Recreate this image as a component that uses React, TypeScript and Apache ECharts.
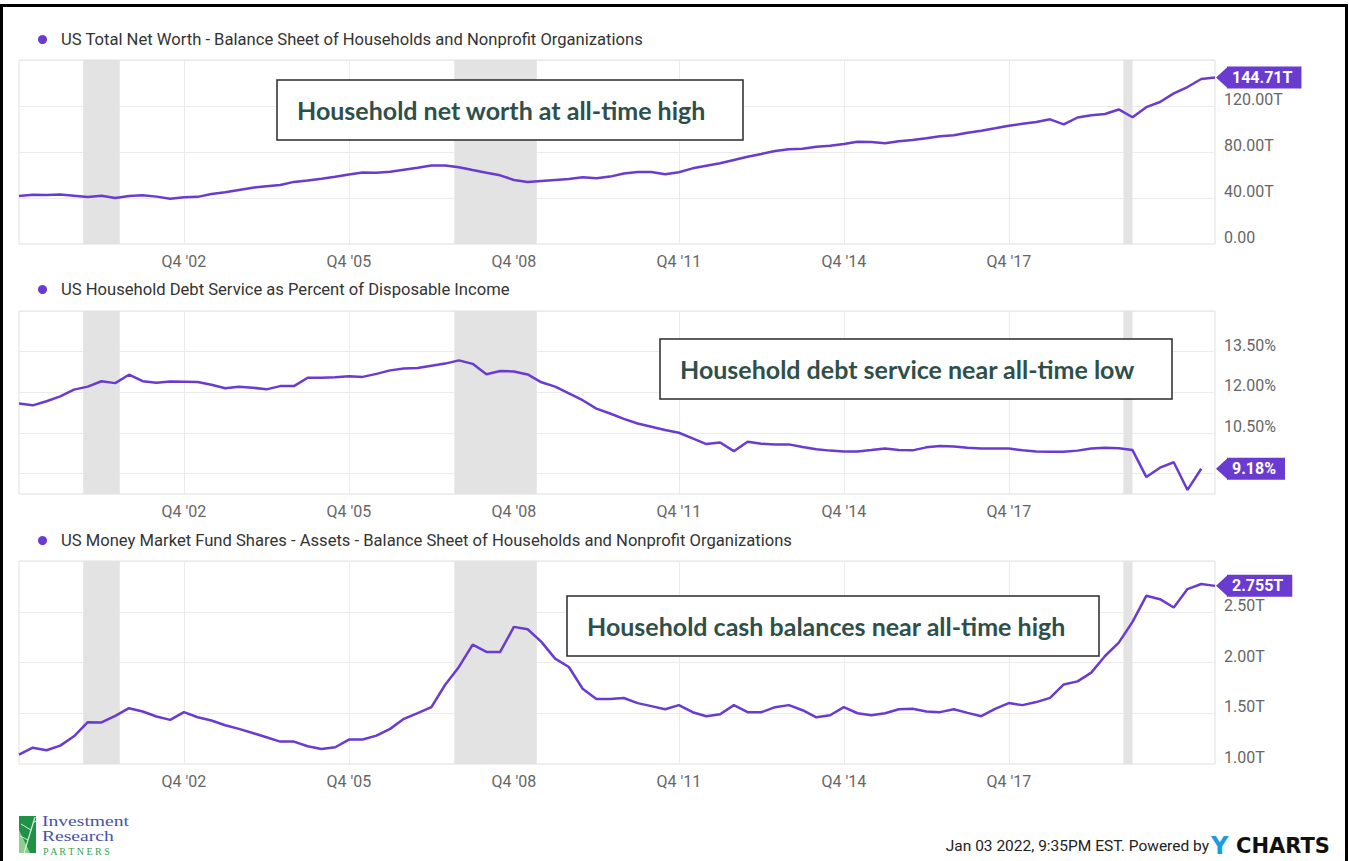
import React, { useEffect, useRef } from "react";
import * as echarts from "echarts";

// ---------- categories ----------
const FIRST_YEAR = 1999; // first point is Q4 1999
const QUARTER_COUNT = 88; // Q4 '99 .. Q3 '21
const QUARTERS: string[] = Array.from({ length: QUARTER_COUNT }, (_, i) => {
  const q = ((i + 3) % 4) + 1;
  const yr = FIRST_YEAR + Math.floor((i + 3) / 4);
  return `Q${q} '${String(yr).slice(2)}`;
});
const X_TICKS = ["Q4 '02", "Q4 '05", "Q4 '08", "Q4 '11", "Q4 '14", "Q4 '17"];
const RECESSIONS = [
  ["2001-03", "2001-11"],
  ["2007-12", "2009-06"],
  ["2020-02", "2020-04"],
];

// ---------- series 1 ----------
const NET_WORTH_NAME =
  "US Total Net Worth - Balance Sheet of Households and Nonprofit Organizations";
const NET_WORTH = [
  41.7, 42.8, 42.6, 43.0, 42.0, 40.9, 42.0, 40.0, 41.7, 42.3,
  41.2, 39.4, 40.6, 41.0, 43.5, 45.0, 47.0, 49.0, 50.2, 51.3,
  54.0, 55.2, 56.7, 58.5, 60.5, 62.2, 62.0, 62.9, 64.6, 66.3,
  68.2, 68.3, 66.7, 64.3, 62.0, 59.7, 55.7, 53.9, 54.8, 55.7,
  56.5, 58.0, 57.1, 58.6, 61.3, 62.6, 62.6, 60.6, 62.4, 65.8,
  68.1, 70.2, 73.0, 75.9, 78.3, 80.9, 82.3, 82.9, 84.6, 85.5,
  87.0, 89.0, 88.7, 87.6, 89.3, 90.4, 91.9, 93.6, 94.5, 96.8,
  98.5, 100.6, 102.9, 104.5, 106.0, 108.4, 104.0, 110.0, 112.0, 113.0,
  117.0, 110.2, 119.0, 123.5, 131.0, 136.5, 143.5, 144.71,
];
const NET_WORTH_AXIS = { min: 0, max: 160, step: 40 };
const NET_WORTH_GRIDLINES = [40, 80, 120];
const NET_WORTH_LABELED = [0, 40, 80, 120];

// ---------- series 2 ----------
const DSR_NAME = "US Household Debt Service as Percent of Disposable Income";
const DSR = [
  11.59, 11.52, 11.67, 11.85, 12.10, 12.21, 12.41, 12.34, 12.65, 12.41,
  12.35, 12.40, 12.39, 12.38, 12.28, 12.15, 12.21, 12.17, 12.11, 12.23,
  12.23, 12.54, 12.54, 12.56, 12.59, 12.57, 12.68, 12.81, 12.88, 12.90,
  12.98, 13.06, 13.18, 13.05, 12.67, 12.79, 12.77, 12.66, 12.37, 12.21,
  11.96, 11.71, 11.40, 11.22, 11.02, 10.85, 10.73, 10.61, 10.51, 10.30,
  10.09, 10.15, 9.83, 10.18, 10.10, 10.08, 10.08, 9.98, 9.90, 9.85,
  9.82, 9.82, 9.87, 9.93, 9.87, 9.86, 9.97, 10.02, 10.00, 9.96,
  9.93, 9.93, 9.93, 9.86, 9.82, 9.81, 9.81, 9.85, 9.93, 9.96,
  9.94, 9.87, 8.88, 9.22, 9.42, 8.40, 9.18,
];
const DSR_AXIS = { min: 8.25, max: 15, step: 0.75 };
const DSR_GRIDLINES = [9, 10.5, 12, 13.5];
const DSR_LABELED = [10.5, 12, 13.5];

// ---------- series 3 ----------
const MMF_NAME =
  "US Money Market Fund Shares - Assets - Balance Sheet of Households and Nonprofit Organizations";
const MMF = [
  1.092, 1.161, 1.135, 1.181, 1.273, 1.412, 1.409, 1.474, 1.550, 1.517,
  1.468, 1.435, 1.511, 1.461, 1.428, 1.382, 1.346, 1.306, 1.264, 1.221,
  1.221, 1.175, 1.148, 1.165, 1.241, 1.241, 1.280, 1.346, 1.445, 1.501,
  1.560, 1.781, 1.956, 2.176, 2.104, 2.104, 2.351, 2.328, 2.203, 2.038,
  1.956, 1.741, 1.640, 1.640, 1.650, 1.600, 1.570, 1.540, 1.580, 1.510,
  1.470, 1.490, 1.580, 1.510, 1.510, 1.560, 1.580, 1.530, 1.460, 1.480,
  1.560, 1.500, 1.480, 1.500, 1.540, 1.544, 1.517, 1.511, 1.540, 1.504,
  1.471, 1.544, 1.600, 1.580, 1.610, 1.652, 1.784, 1.814, 1.900, 2.064,
  2.196, 2.400, 2.657, 2.624, 2.542, 2.723, 2.773, 2.755,
];
const MMF_AXIS = { min: 1, max: 3, step: 0.5 };
const MMF_GRIDLINES = [1.5, 2, 2.5];
const MMF_LABELED = [1, 1.5, 2, 2.5];

// ---------- annotations ----------
const NOTES = [
  "Household net worth at all-time high",
  "Household debt service near all-time low",
  "Household cash balances near all-time high",
];
const FOOTER = "Jan 03 2022, 9:35PM EST. Powered by";
const LOGO_LINES = ["Investment", "Research"];
const LOGO_SUB = "P A R T N E R S";

// ---------- styles / layout ----------
const W = 1349;
const H = 861;
const PURPLE = "#6a3bd0";
const GRID_COLOR = "#ebebeb";
const BAND_COLOR = "#e3e3e3";
const PLOT_LEFT = 19;
const PLOT_RIGHT = 134;
const LAYOUT = [
  { top: 60, height: 184, legendTop: 26, box: { x: 277, y: 80, w: 466, h: 60, tx: 297 } },
  { top: 311, height: 183, legendTop: 276, box: { x: 660, y: 339, w: 512, h: 60, tx: 680 } },
  { top: 561, height: 203, legendTop: 527, box: { x: 567, y: 596, w: 532, h: 60, tx: 587 } },
];

const near = (a: number, b: number) => Math.abs(a - b) < 1e-6;
const bandIndex = (ym: string) => {
  const [y, m] = ym.split("-").map(Number);
  return (y + (m - 1) / 12 - (FIRST_YEAR + 1)) * 4;
};
const showTick = (_: number, v: string) => X_TICKS.includes(v);

function splitColors(axis: { min: number; max: number; step: number }, lines: number[]) {
  const n = Math.round((axis.max - axis.min) / axis.step);
  const colors: string[] = [];
  for (let i = 0; i <= n; i++) {
    const t = axis.min + i * axis.step;
    colors.push(lines.some((g) => near(g, t)) || i === n ? GRID_COLOR : "rgba(0,0,0,0)");
  }
  return colors;
}

function buildOption() {
  const panels = [
    {
      name: NET_WORTH_NAME,
      data: NET_WORTH,
      axis: NET_WORTH_AXIS,
      lines: NET_WORTH_GRIDLINES,
      labeled: NET_WORTH_LABELED,
      fmt: (v: number) => (v === 0 ? "0.00" : v.toFixed(2) + "T"),
      flag: (v: number) => v.toFixed(2) + "T",
    },
    {
      name: DSR_NAME,
      data: DSR,
      axis: DSR_AXIS,
      lines: DSR_GRIDLINES,
      labeled: DSR_LABELED,
      fmt: (v: number) => v.toFixed(2) + "%",
      flag: (v: number) => v.toFixed(2) + "%",
    },
    {
      name: MMF_NAME,
      data: MMF,
      axis: MMF_AXIS,
      lines: MMF_GRIDLINES,
      labeled: MMF_LABELED,
      fmt: (v: number) => v.toFixed(2) + "T",
      flag: (v: number) => v.toFixed(3) + "T",
    },
  ];

  const grid = LAYOUT.map((l) => ({
    left: PLOT_LEFT,
    right: PLOT_RIGHT,
    top: l.top,
    height: l.height,
    show: true,
    borderColor: "#e0e0e0",
    borderWidth: 1,
    backgroundColor: "transparent",
  }));

  const xAxis: any[] = [];
  panels.forEach((_, g) => {
    xAxis.push({
      type: "category",
      gridIndex: g,
      data: QUARTERS,
      boundaryGap: false,
      axisLine: { show: false },
      axisTick: { show: false },
      axisLabel: { interval: showTick, color: "#666", fontSize: 16, margin: 9, fontFamily: "Roboto" },
      splitLine: { show: true, interval: showTick, lineStyle: { color: GRID_COLOR, width: 1 } },
    });
  });
  panels.forEach((_, g) => {
    xAxis.push({ type: "value", gridIndex: g, min: 0, max: QUARTER_COUNT - 1, show: false });
  });

  const yAxis = panels.map((p, g) => ({
    type: "value",
    gridIndex: g,
    position: "right",
    min: p.axis.min,
    max: p.axis.max,
    interval: p.axis.step,
    axisLine: { show: false },
    axisTick: { show: false },
    axisLabel: {
      color: "#666",
      fontSize: 16,
      fontFamily: "Roboto",
      margin: 9,
      verticalAlign: "bottom",
      lineHeight: 13,
      formatter: (v: number) => (p.labeled.some((t) => near(t, v)) ? p.fmt(v) : ""),
    },
    splitLine: { show: true, lineStyle: { color: splitColors(p.axis, p.lines), width: 1 } },
  }));

  const series: any[] = [];
  panels.forEach((p, g) => {
    series.push({
      type: "line",
      xAxisIndex: 3 + g,
      yAxisIndex: g,
      data: [],
      silent: true,
      z: 1,
      markArea: {
        silent: true,
        itemStyle: { color: BAND_COLOR },
        data: RECESSIONS.map(([a, b]) => [{ xAxis: bandIndex(a) }, { xAxis: bandIndex(b) }]),
      },
    });
  });
  panels.forEach((p, g) => {
    const last = p.data[p.data.length - 1];
    series.push({
      type: "line",
      name: p.name,
      xAxisIndex: g,
      yAxisIndex: g,
      data: p.data,
      showSymbol: false,
      symbol: "circle",
      lineStyle: { color: PURPLE, width: 2.5 },
      itemStyle: { color: PURPLE },
      silent: true,
      z: 3,
      markPoint: {
        silent: true,
        symbol: "path://M0,11L12,0L12,22Z",
        symbolSize: [12, 22],
        symbolKeepAspect: false,
        symbolOffset: [7, 0],
        itemStyle: { color: PURPLE },
        label: {
          show: true,
          position: "right",
          distance: -1,
          formatter: () => p.flag(last),
          color: "#fff",
          fontWeight: "bold",
          fontSize: 16,
          fontFamily: "Roboto",
          backgroundColor: PURPLE,
          padding: [3, 9, 2, 5],
          lineHeight: 17,
        },
        data: [{ coord: [QUARTERS[QUARTER_COUNT - 1], last], value: last }],
      },
    });
  });

  const legend = panels.map((p, g) => ({
    data: [p.name],
    left: 33,
    top: LAYOUT[g].legendTop,
    icon: "circle",
    itemWidth: 27,
    itemHeight: 9,
    selectedMode: false,
    textStyle: { fontSize: 16.6, color: "#333", fontFamily: "Roboto" },
  }));

  const graphic: any[] = [
    {
      type: "rect",
      silent: true,
      shape: { x: 1.5, y: 5.5, width: 1345, height: 900 },
      style: { fill: "none", stroke: "#000", lineWidth: 3 },
      z: 100,
    },
  ];
  LAYOUT.forEach((l, g) => {
    graphic.push({
      type: "rect",
      z: 90,
      silent: true,
      shape: { x: l.box.x, y: l.box.y, width: l.box.w, height: l.box.h },
      style: { fill: "#fff", stroke: "#2a2a2a", lineWidth: 1.5 },
    });
    graphic.push({
      type: "text",
      z: 91,
      silent: true,
      style: {
        x: l.box.tx,
        y: l.box.y + l.box.h / 2,
        text: NOTES[g],
        fill: "#2f4f4a",
        fontFamily: "Lato",
        fontWeight: "bold",
        fontSize: 25,
        verticalAlign: "middle",
        align: "left",
      },
    });
  });
  // footer
  graphic.push({
    type: "text",
    z: 90,
    style: {
      x: 1209,
      y: 846,
      text: FOOTER,
      fill: "#222",
      fontFamily: "Roboto",
      fontSize: 15.5,
      align: "right",
      verticalAlign: "middle",
    },
  });
  graphic.push({
    type: "text",
    z: 90,
    style: {
      x: 1211,
      y: 846,
      text: "Y",
      fill: "#1b9be0",
      fontFamily: "DejaVu Sans",
      fontWeight: "bold",
      fontSize: 24,
      align: "left",
      verticalAlign: "middle",
    },
  });
  graphic.push({
    type: "text",
    z: 90,
    style: {
      x: 1236,
      y: 846,
      text: "CHARTS",
      fill: "#111",
      fontFamily: "DejaVu Sans",
      fontWeight: "bold",
      fontSize: 21,
      align: "left",
      verticalAlign: "middle",
    },
  });
  // logo
  const logo: any[] = [
    { type: "rect", shape: { x: 19, y: 816, width: 17, height: 37 }, style: { fill: "#1f9247" } },
    { type: "polygon", shape: { points: [[19, 830], [19, 853], [30, 853]] }, style: { fill: "#8ccf8e" } },
    { type: "line", shape: { x1: 35, y1: 817, x2: 24, y2: 853 }, style: { stroke: "#d6efd6", lineWidth: 1.2 } },
    { type: "line", shape: { x1: 31, y1: 830, x2: 21, y2: 824 }, style: { stroke: "#d6efd6", lineWidth: 1 } },
    { type: "line", shape: { x1: 28, y1: 840, x2: 20, y2: 836 }, style: { stroke: "#d6efd6", lineWidth: 1 } },
    { type: "line", shape: { x1: 33, y1: 823, x2: 36, y2: 821 }, style: { stroke: "#d6efd6", lineWidth: 1 } },
  ];
  LOGO_LINES.forEach((word, i) => {
    logo.push({
      type: "text",
      x: 42,
      y: 821.5 + i * 15,
      scaleX: 1.4,
      style: {
        x: 0,
        y: 0,
        text: word,
        fill: "#4651a8",
        fontFamily: "Liberation Serif",
        fontSize: 14,
        verticalAlign: "middle",
      },
    });
  });
  logo.push({
    type: "text",
    style: { x: 43, y: 851, text: LOGO_SUB, fill: "#34a352", fontFamily: "Liberation Serif", fontSize: 10, verticalAlign: "middle" },
  });
  logo.forEach((e) => graphic.push({ ...e, z: 90, silent: true }));

  return {
    animation: false,
    backgroundColor: "#fff",
    textStyle: { fontFamily: "Roboto" },
    grid,
    xAxis,
    yAxis,
    legend,
    series,
    graphic,
  };
}

export default function App() {
  const ref = useRef<HTMLDivElement>(null);
  useEffect(() => {
    if (!ref.current) return;
    const chart = echarts.init(ref.current, undefined, { renderer: "svg" });
    chart.setOption(buildOption() as any);
    return () => chart.dispose();
  }, []);
  return (
    <div
      ref={ref}
      style={{ position: "absolute", left: 0, top: 0, width: W, height: H, background: "#fff" }}
    />
  );
}
